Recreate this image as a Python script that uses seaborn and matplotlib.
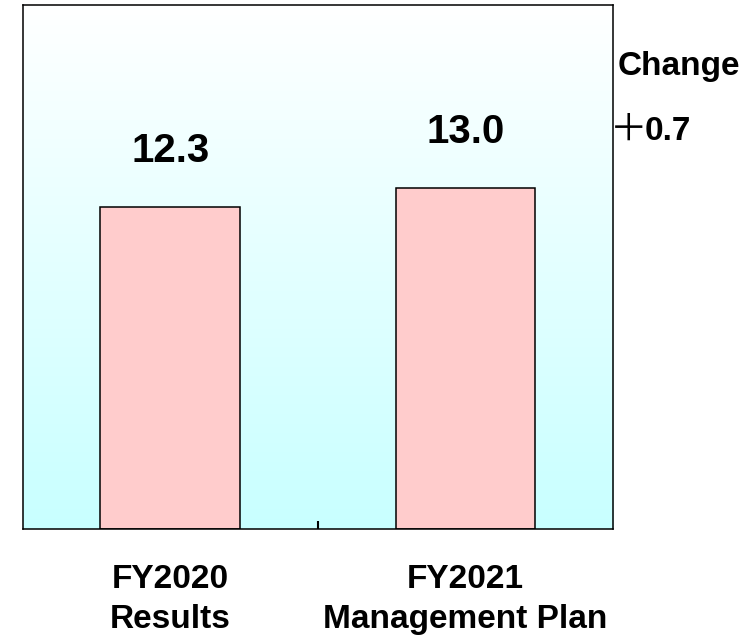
import numpy as np
import matplotlib
matplotlib.use("Agg")
import matplotlib.pyplot as plt
from matplotlib.colors import LinearSegmentedColormap
import seaborn as sns

# ---- data ----
categories = ["FY2020\nResults", "FY2021\nManagement Plan"]
values = [12.3, 13.0]
value_labels = ["12.3", "13.0"]
change_title = "Change"
change_sign = "\uff0b"
change_number = "0.7"

sns.set_theme(style="white")
plt.rcParams["font.family"] = ["Liberation Sans", "Noto Sans CJK JP", "DejaVu Sans"]
plt.rcParams["text.color"] = "black"
plt.rcParams["xtick.color"] = "black"

fig = plt.figure(figsize=(7.56, 6.41), dpi=100)
ax = fig.add_axes([22.5 / 756, 1 - 529 / 641, (613 - 22.5) / 756, (529 - 5) / 641])

sns.barplot(x=categories, y=values, color="#FFCCCC", saturation=1, width=0.472,
            edgecolor="black", linewidth=1.1, ax=ax, zorder=2)

# gradient background
cmap = LinearSegmentedColormap.from_list("bg", ["#C8FFFF", "#FFFFFF"])
grad = np.linspace(0, 1, 256).reshape(-1, 1)
ax.imshow(grad, cmap=cmap, extent=[-0.5, 1.5, 0, 20], aspect="auto",
          origin="lower", zorder=0)

ax.set_xlim(-0.5, 1.5)
ax.set_ylim(0, 20)
ax.set_yticks([])
ax.set_ylabel("")
ax.set_xlabel("")

for sp in ax.spines.values():
    sp.set_visible(True)
    sp.set_color("black")
    sp.set_linewidth(1.1)

ax.tick_params(axis="x", which="major", length=0, pad=25)
ax.set_xticks([0, 1])
ax.set_xticklabels(categories, fontsize=24, fontweight="bold", linespacing=1.37,
                   color="black")
ax.set_xticks([0.5], minor=True)
ax.tick_params(axis="x", which="minor", direction="in", length=6, width=1.5,
               color="black", bottom=True)

for i, (v, lab) in enumerate(zip(values, value_labels)):
    ax.annotate(lab, xy=(i, v), xytext=(0, 32.5), textcoords="offset points",
                ha="center", va="baseline", fontsize=29, fontweight="bold",
                color="black")

fig.text(618 / 756, 1 - 75 / 641, change_title, ha="left", va="baseline",
         fontsize=24, fontweight="bold", color="black")
fig.text(609.5 / 756, 1 - 141 / 641, change_sign, ha="left", va="baseline",
         fontsize=27, fontweight="normal", color="black",
         family=["Noto Sans CJK JP", "DejaVu Sans"])
fig.text(644.5 / 756, 1 - 140 / 641, change_number, ha="left", va="baseline",
         fontsize=24, fontweight="bold", color="black")

fig.savefig("out.png", dpi=100)
